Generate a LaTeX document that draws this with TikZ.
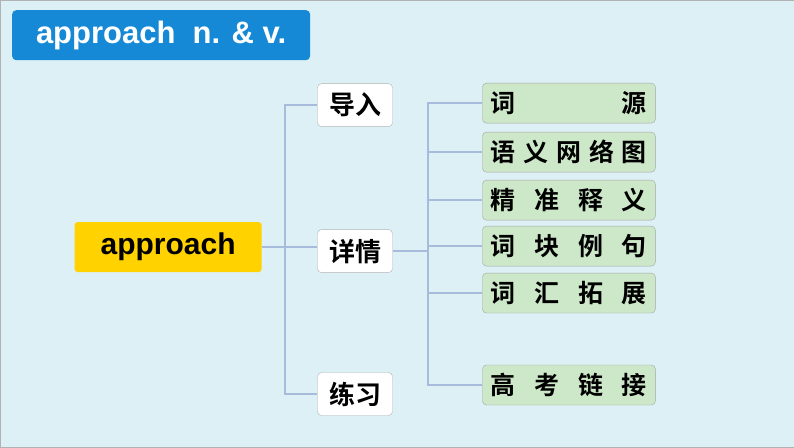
\documentclass[tikz,border=0pt]{standalone}
\usepackage{fontspec}
\setmainfont{Liberation Sans}
\newfontfamily\cjk{Noto Sans CJK SC}[BoldFont={Noto Sans CJK SC Bold}]
\usepackage{tikz}
\usetikzlibrary{positioning}
\definecolor{bgcol}{HTML}{DCF0F5}
\definecolor{titleblue}{HTML}{1589D6}
\definecolor{rootyellow}{HTML}{FFD200}
\definecolor{leafgreen}{HTML}{CDE8C8}
\definecolor{linecol}{HTML}{A6BCDA}
\tikzset{
  rootbox/.style={rectangle, fill=rootyellow, rounded corners=3pt, minimum width=187pt, minimum height=50pt, font=\bfseries\fontsize{30}{30}\selectfont},
  midbox/.style={rectangle, draw=gray!60, fill=white, rounded corners=4pt, minimum width=75pt, minimum height=43pt, inner sep=0pt, font=\cjk\bfseries\fontsize{26}{26}\selectfont},
  leafbox/.style={rectangle, draw=gray!70, fill=leafgreen, rounded corners=4pt, minimum width=173pt, minimum height=40pt, inner sep=0pt, font=\cjk\bfseries\fontsize{25}{25}\selectfont},
  link/.style={draw=linecol, line width=2pt}
}
\newcommand{\spreadtext}[1]{\makebox[156pt][s]{#1}}
\begin{document}
\begin{tikzpicture}[x=1pt, y=-1pt]
  % background
  \fill[bgcol, draw=gray!60] (0,0) rectangle (794,447);
  \useasboundingbox (0,0) rectangle (794,447);
  % title
  \node[rectangle, fill=titleblue, rounded corners=4pt, minimum width=298pt, minimum height=50pt, text=white, font=\bfseries\fontsize{31}{31}\selectfont] (title) at (161,35) {approach\ \ n. \& v.};
  % root and branches
  \node[rootbox] (approach) at (168,247) {approach};
  \node[midbox] (intro) at (355,105) {导入};
  \node[midbox] (detail) at (355,251) {详情};
  \node[midbox] (practice) at (355,394) {练习};
  % leaves
  \node[leafbox] (origin) at (569,103) {\spreadtext{词\hfill 源}};
  \node[leafbox] (network) at (569,152) {\spreadtext{语\hfill 义\hfill 网\hfill 络\hfill 图}};
  \node[leafbox] (meaning) at (569,200) {\spreadtext{精\hfill 准\hfill 释\hfill 义}};
  \node[leafbox] (chunks) at (569,246) {\spreadtext{词\hfill 块\hfill 例\hfill 句}};
  \node[leafbox] (expand) at (569,293) {\spreadtext{词\hfill 汇\hfill 拓\hfill 展}};
  \node[leafbox] (exam) at (569,385) {\spreadtext{高\hfill 考\hfill 链\hfill 接}};
  % connectors
  \coordinate (trunkA) at (285,247);
  \coordinate (trunkB) at (428,251);
  \path[link] (approach.east) -- (trunkA);
  \path[link] (intro.west) -| (trunkA) |- (practice.west);
  \path[link] (trunkA) -- (trunkA -| detail.west);
  \path[link] (detail.east) -- (trunkB);
  \path[link] (origin.west) -| (trunkB) |- (exam.west);
  \foreach \leaf in {network, meaning, chunks, expand}
    \path[link] (\leaf.west) -- (\leaf.west -| trunkB);
\end{tikzpicture}
\end{document}
